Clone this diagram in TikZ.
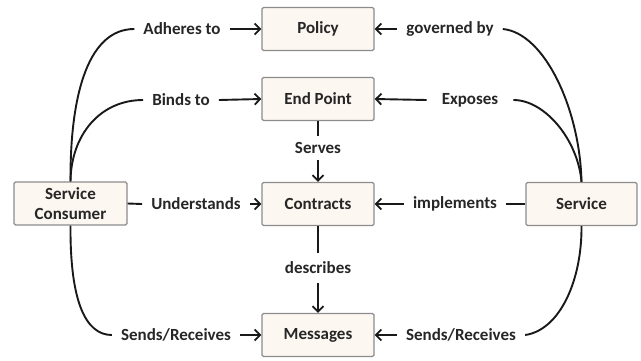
\documentclass[tikz,border=0pt]{standalone}
\usepackage{fontspec}
\setmainfont{Carlito}
\usetikzlibrary{arrows.meta}
\definecolor{boxfill}{HTML}{FDF7F1}
\definecolor{boxline}{HTML}{8C8C8C}
\definecolor{txt}{HTML}{262626}
\tikzset{
  box/.style={draw=boxline, fill=boxfill, line width=1.3pt, rounded corners=1.5pt,
    minimum width=112pt, minimum height=43pt, inner sep=2pt, align=center,
    font=\fontsize{17}{20}\selectfont\bfseries, text=txt},
  lbl/.style={inner xsep=9pt, inner ysep=5pt, font=\fontsize{17}{20}\selectfont\bfseries, text=txt},
  con/.style={line width=1.9pt, black!90},
  arr/.style={con, -{Straight Barb[length=5.5pt,width=11pt,line width=1.8pt]}}
}
\begin{document}
\begin{tikzpicture}[x=1pt,y=-1pt]
\useasboundingbox (0,0) rectangle (641,360);
% boxes
\node[box] (policy) at (318,29) {Policy};
\node[box] (endpoint) at (318,99) {End Point};
\node[box] (contracts) at (318,204) {Contracts};
\node[box] (messages) at (318,335) {Messages};
\node[box, minimum width=113pt] (consumer) at (70.5,203.5) {Service\\Consumer};
\node[box, minimum width=111pt] (service) at (581.5,204) {Service};
% labels
\node[lbl] (adheres) at (182,29) {Adheres to};
\node[lbl] (binds) at (181,100) {Binds to};
\node[lbl] (understands) at (196,204) {Understands};
\node[lbl] (sendsL) at (176,335) {Sends/Receives};
\node[lbl] (governed) at (450,29) {governed by};
\node[lbl, inner xsep=15pt] (exposes) at (470,100) {Exposes};
\node[lbl] (implements) at (455,204) {implements};
\node[lbl] (sendsR) at (461,335) {Sends/Receives};
\node[lbl, inner ysep=6pt] (serves) at (318,148) {Serves};
\node[lbl, inner ysep=9pt] (describes) at (318,268) {describes};
% left side
\draw[con] (consumer.north) .. controls (70,90) and (90,29) .. (adheres.west);
\draw[con] (consumer.north) .. controls (71,135) and (100,100) .. (binds.west);
\draw[con] (consumer.east) -- (understands.west);
\draw[con] (consumer.south) .. controls (70,300) and (85,335) .. (sendsL.west);
\draw[arr] (adheres.east) -- (policy.west);
\draw[arr] (binds.east) -- (endpoint.west);
\draw[arr] (understands.east) -- (contracts.west);
\draw[arr] (sendsL.east) -- (messages.west);
% right side
\draw[con] (governed.east) .. controls (545,33) and (580,110) .. (service.north);
\draw[con] (exposes.east) .. controls (545,100) and (578,140) .. (service.north);
\draw[con] (implements.east) -- (service.west);
\draw[con] (sendsR.east) .. controls (560,330) and (582,280) .. (service.south);
\draw[arr] (governed.west) -- (policy.east);
\draw[arr] (exposes.west) -- (endpoint.east);
\draw[arr] (implements.west) -- (contracts.east);
\draw[arr] (sendsR.west) -- (messages.east);
% center
\draw[con] (endpoint.south) -- (serves.north);
\draw[arr] (serves.south) -- (contracts.north);
\draw[con] (contracts.south) -- (describes.north);
\draw[arr] (describes.south) -- (messages.north);
\end{tikzpicture}
\end{document}
